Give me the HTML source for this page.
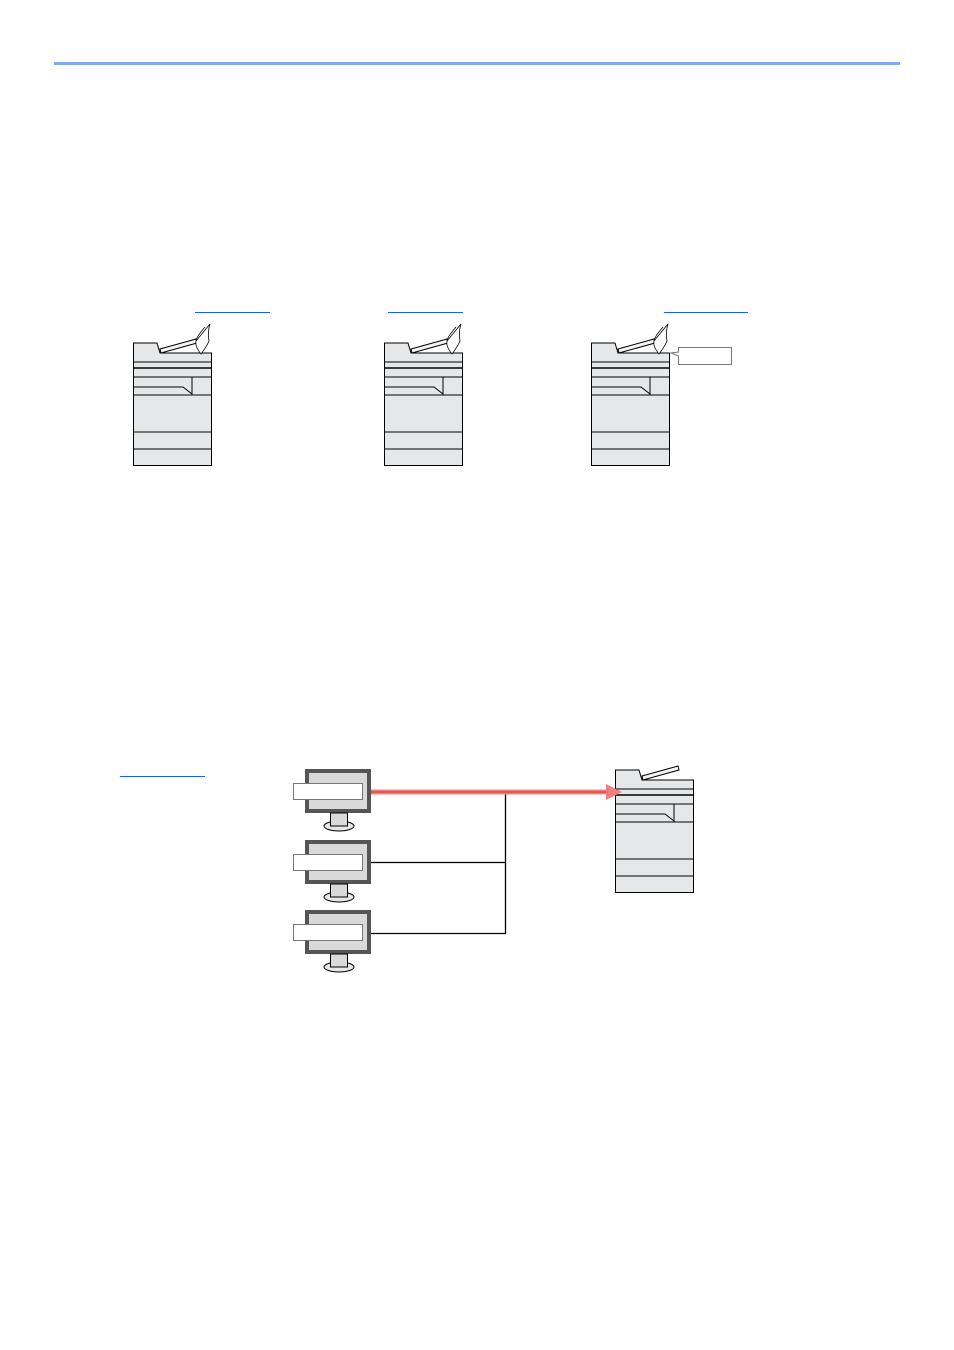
<!DOCTYPE html>
<html><head><meta charset="utf-8"><style>html,body{margin:0;padding:0;background:#fff}svg{display:block}</style></head>
<body>
<svg width="954" height="1350" viewBox="0 0 954 1350" xmlns="http://www.w3.org/2000/svg">
<defs>
<g id="pr" stroke="#000" stroke-width="1" fill="#e6e7e9">
  <path d="M133.5,343 H157 L160,353 H211.5 V465.5 H133.5 Z"/>
  <line x1="133.5" y1="362" x2="211.5" y2="362"/>
  <line x1="133.5" y1="368" x2="211.5" y2="368" stroke-width="1.5"/>
  <line x1="133.5" y1="377" x2="211.5" y2="377"/>
  <path d="M133.5,387 H183 L192,394 V377" fill="none"/>
  <line x1="133.5" y1="395" x2="211.5" y2="395"/>
  <line x1="133.5" y1="432" x2="211.5" y2="432"/>
  <line x1="133.5" y1="449" x2="211.5" y2="449"/>
  <path d="M160,349 L196,339 L197,343 L161,353 Z" fill="#f4f4f4"/>
</g>
<g id="hand" fill="#fff" stroke="#000" stroke-width="0.8">
  <path d="M196,341 C197,336 201,332 205,327 M210,324 C208,330 208,335 209,341 C207,346 204,350 201,354 C198,350 195,346 196,341 Z"/>
</g>
<g id="mon">
  <rect x="305" y="769" width="66" height="44" fill="#555" />
  <rect x="309" y="773" width="58" height="36" fill="#d9d9d9"/>
  <ellipse cx="339" cy="826" rx="15" ry="5" fill="#e6e6e6" stroke="#000"/>
  <rect x="330.5" y="813" width="17" height="13" fill="#d9d9d9" stroke="#000"/>
  <rect x="293.5" y="783.5" width="69" height="16" fill="#fff" stroke="#777"/>
</g>
</defs>
<line x1="54" y1="63.5" x2="900" y2="63.5" stroke="#80a8f4" stroke-width="3"/>
<g stroke="#1a5cff" stroke-width="1">
<line x1="195" y1="312.5" x2="270" y2="312.5"/>
<line x1="388" y1="312.5" x2="463" y2="312.5"/>
<line x1="664" y1="312.5" x2="748" y2="312.5"/>
<line x1="120" y1="776.5" x2="205" y2="776.5"/>
</g>
<use href="#pr"/><use href="#hand"/>
<g transform="translate(251,0)"><use href="#pr"/><use href="#hand"/></g>
<g transform="translate(458,0)"><use href="#pr"/><use href="#hand"/></g>
<path d="M678.5,352 V347.5 H731.5 V364.5 H678.5 V356 L671,353 Z" fill="#fff" stroke="#777"/>
<g transform="translate(482,427)"><use href="#pr"/></g>
<use href="#mon"/>
<g transform="translate(0,71)"><use href="#mon"/></g>
<g transform="translate(0,141)"><use href="#mon"/></g>
<g stroke="#000" stroke-width="1.3" fill="none">
<path d="M505.5,792 V933.5 H371"/>
<line x1="371" y1="862.5" x2="505.5" y2="862.5"/>
</g>
<line x1="371" y1="792" x2="610" y2="792" stroke="#f08080" stroke-width="5"/>
<line x1="371" y1="792" x2="610" y2="792" stroke="#c0392b" stroke-width="1"/>
<path d="M606,784 L622,792 L606,800 Z" fill="#f08080"/>
</svg>
</body></html>
